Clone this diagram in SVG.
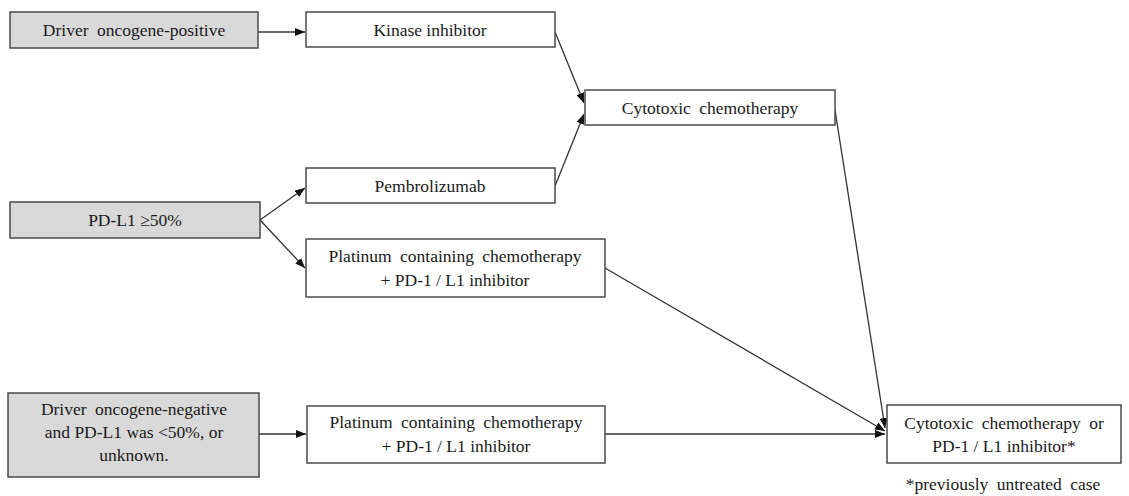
<svg xmlns="http://www.w3.org/2000/svg" width="1129" height="496" viewBox="0 0 1129 496">
<style>
.box{fill:#ffffff;stroke:#4a4a4a;stroke-width:1.5}
.grey{fill:#d9d9d9}
text{font-family:"Liberation Serif","Times New Roman",serif;font-size:17.5px;fill:#1a1a1a;text-anchor:middle}
.ws{word-spacing:4px}
.ln{stroke:#333;stroke-width:1.3;fill:none;marker-end:url(#ah)}
</style>
<defs>
<marker id="ah" viewBox="0 0 10 8" refX="10" refY="4" markerWidth="10" markerHeight="8" markerUnits="userSpaceOnUse" orient="auto">
<path d="M0,0 L10,4 L0,8 z" fill="#111"/>
</marker>
</defs>
<rect width="1129" height="496" fill="#ffffff"/>
<g id="connectors">
<line class="ln" x1="258" y1="32" x2="305" y2="32"/>
<line class="ln" x1="555" y1="32" x2="584" y2="103"/>
<line class="ln" x1="555" y1="186" x2="584" y2="114"/>
<line class="ln" x1="260" y1="220" x2="305" y2="188"/>
<line class="ln" x1="260" y1="220" x2="305" y2="268"/>
<line class="ln" x1="835" y1="110" x2="885" y2="428"/>
<line class="ln" x1="605" y1="268" x2="885" y2="431"/>
<line class="ln" x1="259" y1="434" x2="306" y2="434"/>
<line class="ln" x1="605" y1="434" x2="885" y2="434"/>
</g>
<g id="n-driver-pos">
<rect class="box grey" x="10" y="12" width="248" height="36"/>
<text class="ws" x="134" y="36">Driver oncogene-positive</text>
</g>
<g id="n-kinase">
<rect class="box" x="306" y="12" width="249" height="35"/>
<text x="430" y="36">Kinase inhibitor</text>
</g>
<g id="n-cytotoxic">
<rect class="box" x="585" y="90" width="250" height="35"/>
<text class="ws" x="710" y="114">Cytotoxic chemotherapy</text>
</g>
<g id="n-pdl1">
<rect class="box grey" x="10" y="202" width="250" height="36"/>
<text x="135" y="226">PD-L1 ≥50%</text>
</g>
<g id="n-pembro">
<rect class="box" x="306" y="168" width="249" height="35"/>
<text x="430" y="192">Pembrolizumab</text>
</g>
<g id="n-platinum1">
<rect class="box" x="306" y="239" width="299" height="58"/>
<text class="ws" x="455" y="262">Platinum containing chemotherapy</text>
<text x="455" y="286">+ PD-1 / L1 inhibitor</text>
</g>
<g id="n-driver-neg">
<rect class="box grey" x="8" y="393" width="251" height="84"/>
<text class="ws" x="134" y="415">Driver oncogene-negative</text>
<text x="134" y="438">and PD-L1 was &lt;50%, or</text>
<text x="134" y="461">unknown.</text>
</g>
<g id="n-platinum2">
<rect class="box" x="307" y="406" width="298" height="57"/>
<text class="ws" x="456" y="428">Platinum containing chemotherapy</text>
<text x="456" y="452">+ PD-1 / L1 inhibitor</text>
</g>
<g id="n-result">
<rect class="box" x="887" y="405" width="234" height="58"/>
<text class="ws" x="1004" y="429">Cytotoxic chemotherapy or</text>
<text x="1004" y="452">PD-1 / L1 inhibitor*</text>
</g>
<text class="ws" x="1003" y="490">*previously untreated case</text>
</svg>
